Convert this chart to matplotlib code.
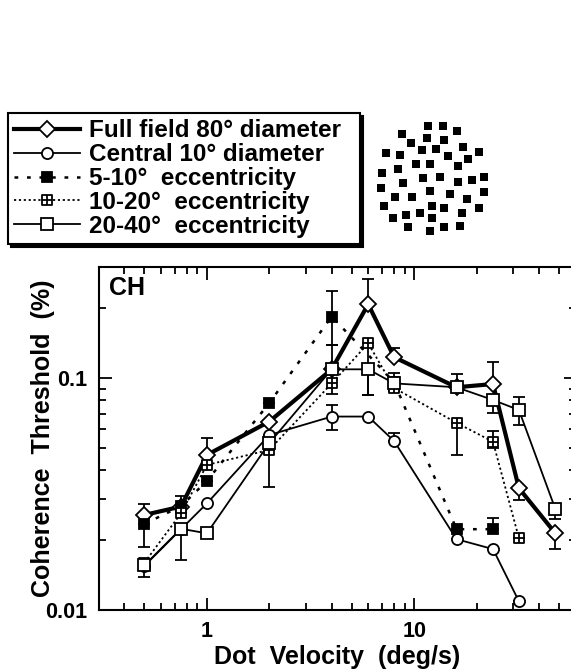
#Coherence threshold vs dot velocity for different stimulus fields (observer CH)

import matplotlib
matplotlib.use('Agg')
import matplotlib.pyplot as plt
from matplotlib.path import Path
from matplotlib.ticker import LogLocator, NullFormatter
import numpy as np

plt.rcParams['font.family'] = ['Liberation Sans', 'DejaVu Sans']
plt.rcParams['font.weight'] = 'bold'

#data (velocity in deg/s, threshold in %)
labels = ["Full field 80\u00b0 diameter", "Central 10\u00b0 diameter",
          "5-10\u00b0  eccentricity", "10-20\u00b0  eccentricity", "20-40\u00b0  eccentricity"]

full_x = [0.5, 0.75, 1, 2, 4, 6, 8, 16, 24, 32, 48]
full_y = [0.0257, 0.0279, 0.0466, 0.0649, 0.109, 0.208, 0.123, 0.0912, 0.0942, 0.0335, 0.0214]
full_lo = [0.0257, 0.0279, 0.0466, 0.0649, 0.109, 0.208, 0.123, 0.0912, 0.0942, 0.0298, 0.0183]
full_hi = [0.0286, 0.031, 0.0549, 0.0649, 0.109, 0.266, 0.135, 0.0912, 0.117, 0.0335, 0.0214]

central_x = [0.5, 0.75, 1, 2, 4, 6, 8, 16, 24, 32]
central_y = [0.0155, 0.0223, 0.0288, 0.0568, 0.0682, 0.0682, 0.0535, 0.0202, 0.0183, 0.0109]
central_lo = [0.0155, 0.0223, 0.0288, 0.0568, 0.0597, 0.0682, 0.0535, 0.0202, 0.0183, 0.0109]
central_hi = [0.0155, 0.0223, 0.0288, 0.0568, 0.0766, 0.0682, 0.0578, 0.0202, 0.0183, 0.0109]

ecc5_x = [0.5, 0.75, 1, 2, 4, 8, 16, 24]
ecc5_y = [0.0235, 0.028, 0.036, 0.078, 0.184, 0.096, 0.0223, 0.0223]
ecc5_lo = [0.0187, 0.028, 0.036, 0.078, 0.139, 0.096, 0.0223, 0.0223]
ecc5_hi = [0.0235, 0.028, 0.036, 0.078, 0.237, 0.096, 0.0223, 0.0248]

ecc10_x = [0.5, 0.75, 1, 2, 4, 6, 8, 16, 24, 32]
ecc10_y = [0.016, 0.0261, 0.0422, 0.049, 0.0948, 0.141, 0.0906, 0.0641, 0.0531, 0.0204]
ecc10_lo = [0.016, 0.0261, 0.0422, 0.0339, 0.0853, 0.0845, 0.088, 0.0466, 0.050, 0.0204]
ecc10_hi = [0.016, 0.0261, 0.0422, 0.049, 0.139, 0.141, 0.105, 0.0641, 0.0593, 0.0204]

ecc20_x = [0.5, 0.75, 1, 2, 4, 6, 8, 16, 24, 32, 48]
ecc20_y = [0.0156, 0.0224, 0.0214, 0.0524, 0.109, 0.109, 0.0948, 0.0912, 0.0804, 0.0728, 0.0272]
ecc20_lo = [0.0139, 0.0164, 0.0214, 0.0524, 0.109, 0.0845, 0.088, 0.0882, 0.0706, 0.0627, 0.0247]
ecc20_hi = [0.0156, 0.0224, 0.0214, 0.0524, 0.109, 0.109, 0.0948, 0.104, 0.0804, 0.083, 0.0272]

#stimulus sketch: dot centres in picture pixels
dot_x = [428, 443, 457, 402, 427, 444, 411, 422, 436, 463, 386, 400, 448, 468, 479,
         416, 430, 458, 382, 398, 440, 423, 403, 458, 472, 484, 381, 430, 450, 484,
         395, 412, 467, 384, 432, 444, 479, 420, 406, 462, 393, 432, 408, 430, 444, 460]
dot_y = [126, 126, 131, 134, 138, 140, 143, 150, 149, 147, 153, 155, 156, 159, 152,
         164, 164, 166, 173, 169, 177, 178, 183, 182, 180, 177, 188, 191, 194, 192,
         197, 197, 199, 206, 206, 208, 208, 213, 215, 213, 218, 218, 227, 231, 227, 226]

# square with a cross inside
boxplus = Path([(-1, -1), (1, -1), (1, 1), (-1, 1), (-1, -1), (-1, 0), (1, 0), (0, -1), (0, 1)],
               [Path.MOVETO, Path.LINETO, Path.LINETO, Path.LINETO, Path.CLOSEPOLY,
                Path.MOVETO, Path.LINETO, Path.MOVETO, Path.LINETO])

fig = plt.figure(figsize=(5.71, 6.72), dpi=100)
ax = fig.add_axes([98.5 / 571, 62 / 672, 477 / 571, 342.7 / 672])


def draw(x, y, lo, hi, marker, ms, lw, ls, mfc, label):
    x = np.array(x)
    y = np.array(y)
    err = [y - np.array(lo), np.array(hi) - y]
    ax.errorbar(x, y, yerr=err, fmt='none', ecolor='k', elinewidth=1.3,
                capsize=4, capthick=1.3, zorder=2)
    line, = ax.plot(x, y, color='k', lw=lw, ls=ls, marker=marker, ms=ms,
                    mfc=mfc, mec='k', mew=1.3, zorder=3, label=label)
    return line


h1 = draw(full_x, full_y, full_lo, full_hi, 'D', 8, 3.0, '-', 'white', labels[0])
h2 = draw(central_x, central_y, central_lo, central_hi, 'o', 8, 1.3, '-', 'white', labels[1])
h3 = draw(ecc5_x, ecc5_y, ecc5_lo, ecc5_hi, 's', 7.5, 1.8, (0, (1.5, 3.5)), 'black', labels[2])
h4 = draw(ecc10_x, ecc10_y, ecc10_lo, ecc10_hi, boxplus, 7.5, 1.3, (0, (1.2, 1.5)), 'white', labels[3])
h5 = draw(ecc20_x, ecc20_y, ecc20_lo, ecc20_hi, 's', 8.5, 1.3, '-', 'white', labels[4])

ax.set_xscale('log')
ax.set_yscale('log')
ax.set_xlim(0.3, 60)
ax.set_ylim(0.01, 0.3)
ax.set_xticks([1, 10], ['1', '10'])
ax.set_yticks([0.01, 0.1], ['0.01', '0.1'])
ax.xaxis.set_minor_locator(LogLocator(subs=np.arange(2, 10)))
ax.yaxis.set_minor_locator(LogLocator(subs=np.arange(2, 10)))
ax.xaxis.set_minor_formatter(NullFormatter())
ax.yaxis.set_minor_formatter(NullFormatter())
ax.tick_params(which='both', direction='in', top=True, right=True, width=1.3, labelsize=15.5)
ax.tick_params(which='major', length=9, pad=8)
ax.tick_params(which='minor', length=5)
for s in ax.spines.values():
    s.set_linewidth(1.5)

ax.set_xlabel("Dot  Velocity  (deg/s)", fontsize=18, fontweight='bold', labelpad=2)
ax.set_ylabel("Coherence  Threshold  (%)", fontsize=18, fontweight='bold', labelpad=-7)
ax.text(0.022, 0.975, "CH", transform=ax.transAxes, fontsize=18, fontweight='bold',
        va='top', ha='left')

#legend box with a dark drop shadow
leg = fig.legend([h1, h2, h3, h4, h5], labels, loc='upper left', mode='expand',
                 bbox_to_anchor=(8 / 571, 1 - 245 / 672, 352 / 571, 132 / 672),
                 fancybox=False, edgecolor='k',
                 framealpha=1, shadow={'color': 'k', 'alpha': 1},
                 prop={'weight': 'bold', 'size': 17.5}, handlelength=2.7, labelspacing=0.04,
                 borderpad=0.25, handletextpad=0.4, borderaxespad=0)
leg.get_frame().set_linewidth(1.5)

#the random dot stimulus sketch
ax2 = fig.add_axes([370 / 571, 1 - 240 / 672, 125 / 571, 130 / 672])
ax2.scatter(dot_x, dot_y, marker='s', s=26, color='k', linewidths=0)
ax2.set_xlim(370, 495)
ax2.set_ylim(240, 110)
ax2.axis('off')

plt.savefig('out.png', dpi=100)
